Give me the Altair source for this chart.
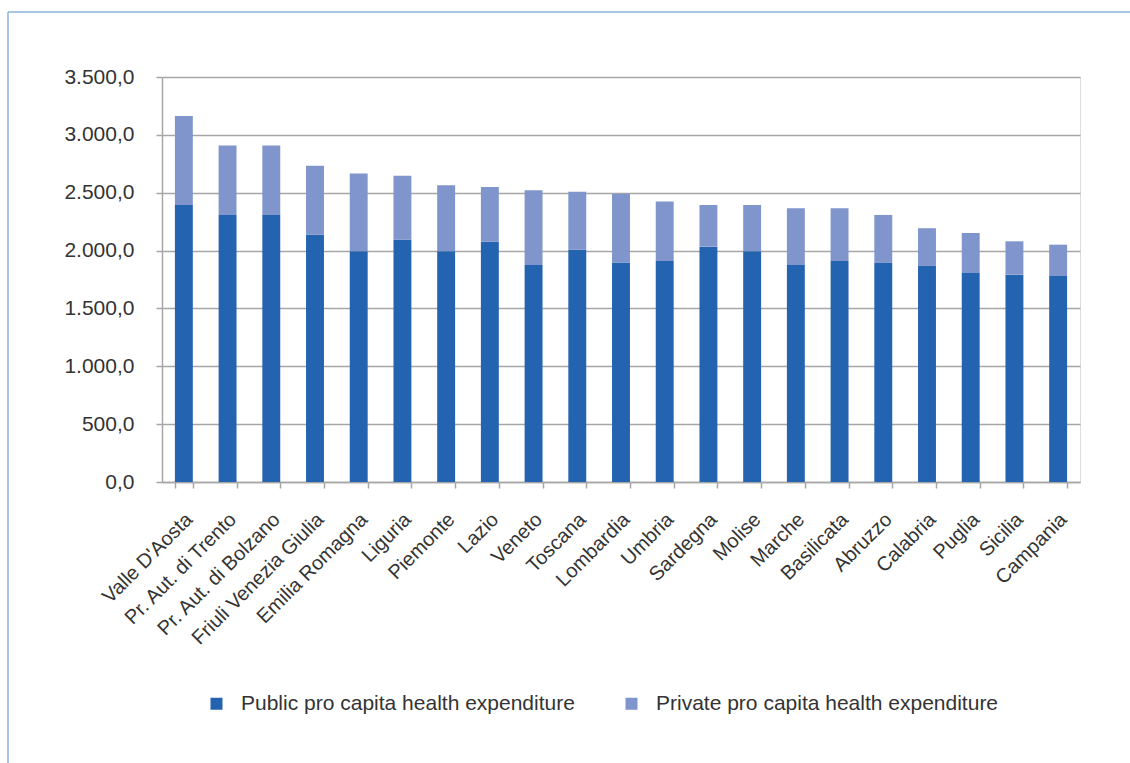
import altair as alt
import pandas as pd

regions = ["Valle D'Aosta", "Pr. Aut. di Trento", "Pr. Aut. di Bolzano", "Friuli Venezia Giulia",
           "Emilia Romagna", "Liguria", "Piemonte", "Lazio", "Veneto", "Toscana", "Lombardia",
           "Umbria", "Sardegna", "Molise", "Marche", "Basilicata", "Abruzzo", "Calabria",
           "Puglia", "Sicilia", "Campania"]
public = [2394, 2308, 2308, 2137, 1994, 2094, 1994, 2077, 1875, 2008, 1896,
          1910, 2034, 1994, 1875, 1910, 1893, 1867, 1806, 1792, 1780]
private = [769, 599, 599, 597, 671, 553, 570, 473, 646, 501, 596,
           513, 360, 400, 490, 455, 415, 326, 346, 288, 271]
series = ["Public pro capita health expenditure", "Private pro capita health expenditure"]
colors = ["#2463B0", "#7F95CB"]
y_ticks = [0, 500, 1000, 1500, 2000, 2500, 3000, 3500]

rows = []
for r, pu, pr in zip(regions, public, private):
    rows.append({"region": r, "series": series[0], "value": pu, "ord": 0})
    rows.append({"region": r, "series": series[1], "value": pr, "ord": 1})
df = pd.DataFrame(rows)

FONT = "Liberation Sans"
TXT = "#333333"
GRID = "#a6a6a6"

bars = alt.Chart(df).mark_bar().encode(
    x=alt.X("region:N", sort=regions,
            scale=alt.Scale(paddingInner=0.59, paddingOuter=0.295),
            axis=alt.Axis(title=None, labelAngle=-45, labelAlign="right", labelBaseline="top",
                          labelPadding=21, labelOffset=-2, tickBand="extent", tickSize=6,
                          tickColor=GRID, domainColor=GRID, domainWidth=1.5, tickWidth=1.5,
                          labelFont=FONT, labelFontSize=20, labelColor=TXT, grid=False,
                          labelLimit=400)),
    y=alt.Y("value:Q", stack="zero",
            scale=alt.Scale(domain=[0, 3500], nice=False),
            axis=alt.Axis(title=None, values=y_ticks, tickSize=6, tickColor=GRID, tickWidth=1.5,
                          domainColor=GRID, domainWidth=1.5, grid=True, gridColor=GRID,
                          gridWidth=1.5, labelPadding=22, labelFont=FONT, labelFontSize=21,
                          labelColor=TXT,
                          labelExpr="replace(replace(replace(format(datum.value, ',.1f'), ',', '#'), '.', ','), '#', '.')")),
    color=alt.Color("series:N", scale=alt.Scale(domain=series, range=colors),
                    legend=alt.Legend(title=None, orient="none", legendX=44, legendY=616,
                                      direction="horizontal", symbolType="square",
                                      symbolSize=144, symbolStrokeWidth=0, labelOffset=14,
                                      columnPadding=46, labelFont=FONT, labelFontSize=21,
                                      labelColor=TXT, labelLimit=500)),
    order=alt.Order("ord:Q"),
)

one = alt.Chart(pd.DataFrame({"a": [0]}))
top_border = one.mark_rule(color="#8DB3E2", strokeWidth=1.5).encode(
    x=alt.value(-154), x2=alt.value(990), y=alt.value(-65))
left_border = one.mark_rule(color="#8DB3E2", strokeWidth=1.5).encode(
    x=alt.value(-154), y=alt.value(-65), y2=alt.value(700))

chart = alt.layer(bars, top_border, left_border).properties(
    width=918, height=405,
    autosize=alt.AutoSizeParams(type="none"),
    padding={"left": 162, "top": 77, "right": 50, "bottom": 281},
).configure_view(stroke=None).configure(background="white")

chart.save("out.html", embed_options={"renderer": "svg", "actions": False})
